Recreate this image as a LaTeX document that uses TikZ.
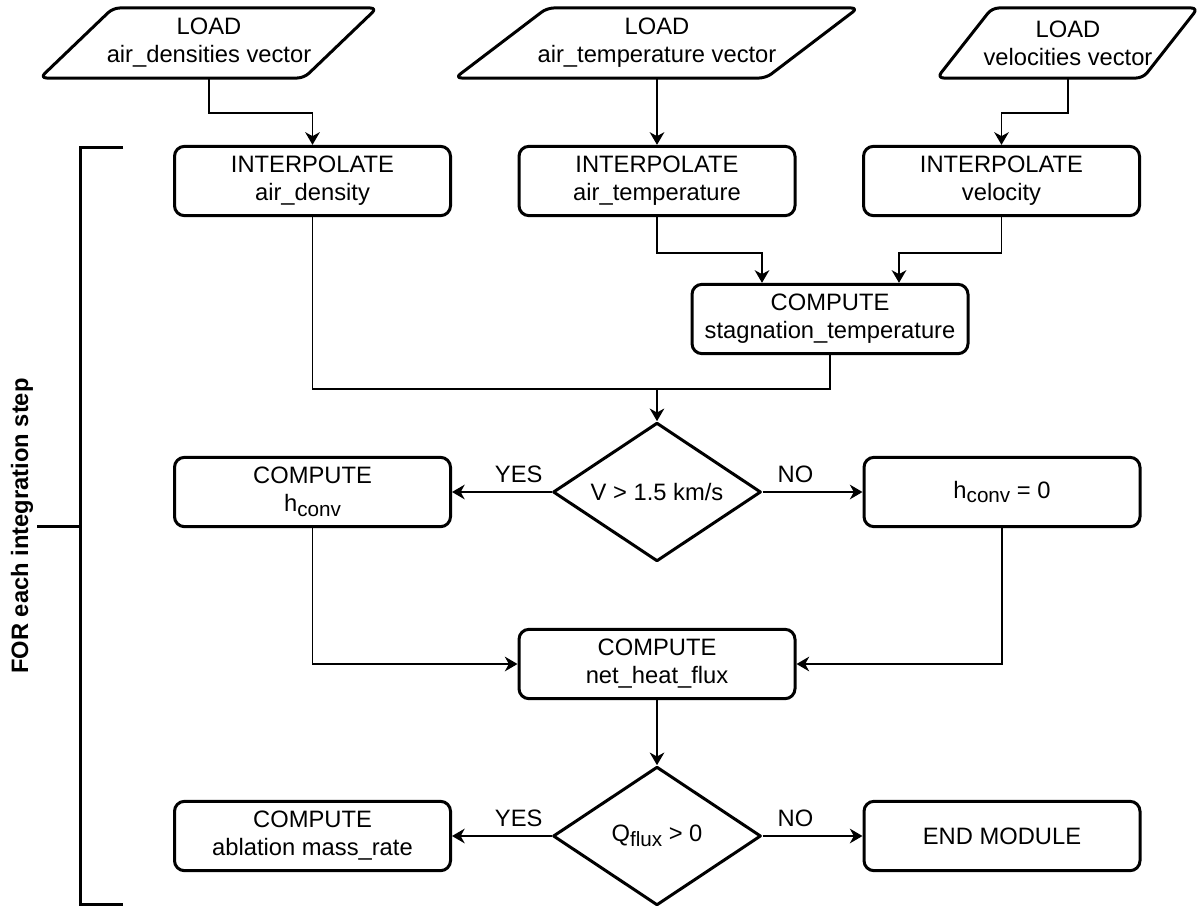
\documentclass[tikz,border=0pt]{standalone}
\usepackage{fontspec}
\setmainfont{Liberation Sans}
\usetikzlibrary{arrows.meta,calc,shapes.geometric}
\newcommand{\sbs}[1]{\raisebox{-3.5pt}{\fontsize{15.5}{15.5}\selectfont #1}}
\begin{document}
\begin{tikzpicture}[x=0.75pt,y=-0.75pt,
  every node/.style={font=\fontsize{17.8}{21}\selectfont},
  box/.style={draw, line width=2.25pt, rounded corners=7.5pt, minimum width=207pt, minimum height=52pt, align=center, inner sep=0pt},
  ptext/.style={minimum height=52.5pt, align=center, inner sep=0pt},
  pshape/.style={draw, line width=2.25pt, rounded corners=5pt, line join=round},
  dec/.style={draw, diamond, shape aspect=1.5, line width=2.25pt, line join=round, minimum width=156pt, minimum height=104pt, inner sep=0pt},
  conn/.style={line width=1.2pt, -{Stealth[length=9.5pt,width=11pt,inset=3pt]}},
  lnk/.style={line width=1.2pt},
  lab/.style={inner sep=0pt, above=6.5pt},
  brk/.style={line width=2.25pt}
]
\useasboundingbox (0,0) rectangle (1201,906);

% inputs
\node[ptext] (p1) at (209,43) {LOAD\\air\_densities vector};
\draw[pshape] (172,78) -- (40,78) -- (113,8) -- (377,8) -- (304,78) -- cycle;
\node[ptext] (p2) at (657,43) {LOAD\\air\_temperature vector};
\draw[pshape] (610,78) -- (455,78) -- (547,8) -- (858,8) -- (766,78) -- cycle;
\node[ptext] (p3) at (1068,43) {LOAD\\velocities vector};
\draw[pshape] (1040,78) -- (937,78) -- (992,8) -- (1198,8) -- (1143,78) -- cycle;

% interpolation
\node[box] (i1) at (312.5,181) {INTERPOLATE\\air\_density};
\node[box] (i2) at (657,181) {INTERPOLATE\\air\_temperature};
\node[box] (i3) at (1001.5,181) {INTERPOLATE\\velocity};
\node[box] (st) at (830,319) {COMPUTE\\stagnation\_temperature};

\coordinate (m1) at (657,389);
\node[dec] (d1) at (657,492) {V > 1.5 km/s};
\node[box] (hc) at (312.5,492) {COMPUTE\\h\sbs{conv}};
\node[box] (h0) at (1002,492) {h\sbs{conv} = 0};
\node[box] (nf) at (657,664) {COMPUTE\\net\_heat\_flux};
\node[dec] (d2) at (657,836) {Q\sbs{flux} > 0};
\node[box] (ab) at (312.5,836) {COMPUTE\\ablation mass\_rate};
\node[box] (en) at (1002,836) {END MODULE};

% connectors
\draw[conn] (p1.south) -- ++(0,35) -| (i1.north);
\draw[conn] (p2.south) -- (i2.north);
\draw[conn] (p3.south) -- ++(0,35) -| (i3.north);
\draw[conn] (i2.south) -- ++(0,36) -| ([xshift=-51pt]st.north);
\draw[conn] (i3.south) -- ++(0,36) -| ([xshift=51.75pt]st.north);
\draw[lnk] (i1.south) |- (m1);
\draw[lnk] (st.south) |- (m1);
\draw[conn] (m1) -- (d1.north);
\draw[conn] (d1.west) -- node[lab,pos=0.33]{YES} (hc.east);
\draw[conn] (d1.east) -- node[lab,pos=0.33]{NO} (h0.west);
\draw[conn] (hc.south) |- (nf.west);
\draw[conn] (h0.south) |- (nf.east);
\draw[conn] (nf.south) -- (d2.north);
\draw[conn] (d2.west) -- node[lab,pos=0.33]{YES} (ab.east);
\draw[conn] (d2.east) -- node[lab,pos=0.33]{NO} (en.west);

% loop bracket
\node[font=\bfseries\fontsize{17.8}{21}\selectfont, rotate=90, inner sep=0pt] (lbl) at (22,526) {FOR each integration step};
\coordinate (bt) at (80,147);
\coordinate (bb) at (80,904);
\coordinate (bm) at (80,526);
\draw[brk] ([xshift=32.25pt]bt) -- (bt) -- (bb) -- ([xshift=32.25pt]bb);
\draw[brk] (bm) -- ([xshift=-32.25pt]bm);
\end{tikzpicture}
\end{document}
